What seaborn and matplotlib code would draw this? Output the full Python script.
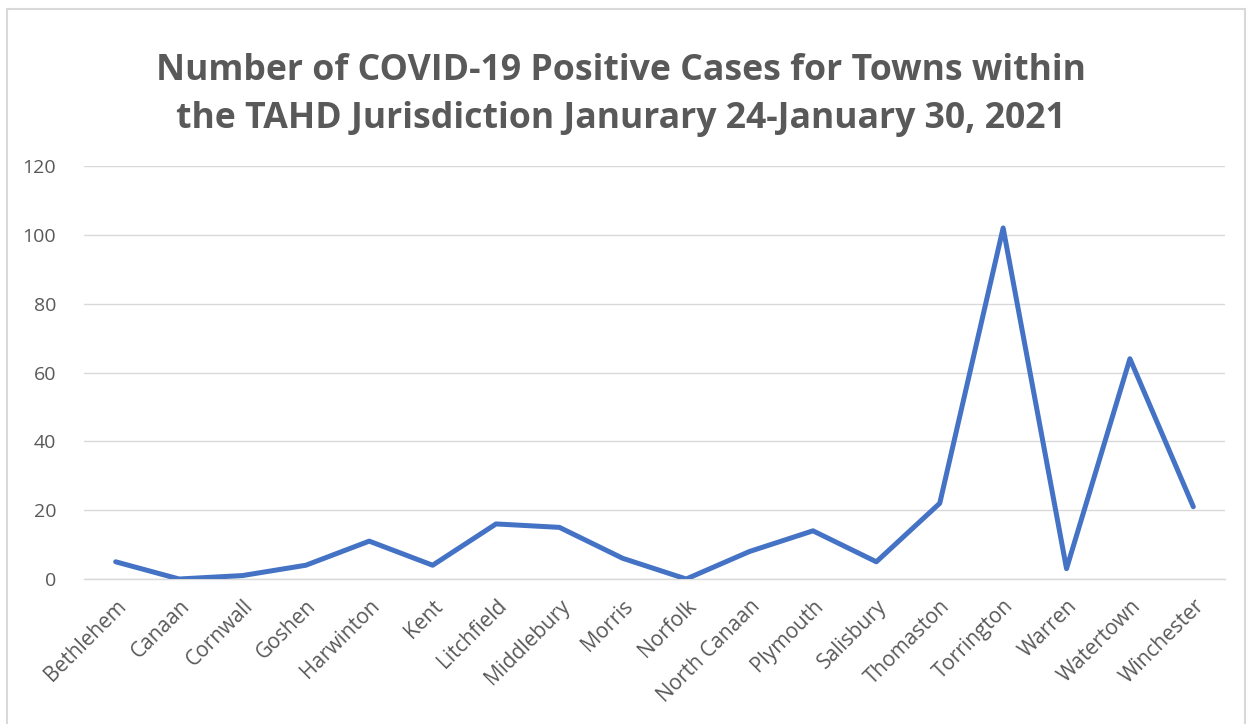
import matplotlib
matplotlib.use("Agg")
import matplotlib.pyplot as plt
import seaborn as sns
import pandas as pd
from matplotlib.patches import Rectangle

towns = ["Bethlehem", "Canaan", "Cornwall", "Goshen", "Harwinton", "Kent",
         "Litchfield", "Middlebury", "Morris", "Norfolk", "North Canaan",
         "Plymouth", "Salisbury", "Thomaston", "Torrington", "Warren",
         "Watertown", "Winchester"]
cases = [5, 0, 1, 4, 11, 4, 16, 15, 6, 0, 8, 14, 5, 22, 102, 3, 64, 21]
y_ticks = [0, 20, 40, 60, 80, 100, 120]
title = ("Number of COVID-19 Positive Cases for Towns within\n"
         "the TAHD Jurisdiction Janurary 24-January 30, 2021")

sns.set_theme(style="white")
plt.rcParams['font.family'] = ['Open Sans', 'DejaVu Sans']

df = pd.DataFrame({"town": towns, "cases": cases})
df["pos"] = range(len(towns))

fig = plt.figure(figsize=(12.52, 7.24), dpi=100)
W, H = 1252, 724
ax = fig.add_axes([84 / W, 1 - 579 / H, (1225 - 84) / W, (579 - 166) / H])

grey = "#595959"
sns.lineplot(data=df, x="pos", y="cases", ax=ax, color="#4472C4",
             linewidth=3.6, solid_capstyle="round", solid_joinstyle="round",
             zorder=3)

ax.set_xlim(-0.5, len(towns) - 0.5)
ax.set_ylim(0, 120)
ax.set_yticks(y_ticks)
ax.set_yticklabels([str(v) for v in y_ticks], fontsize=14, color=grey)
ax.set_xticks(df["pos"])
ax.set_xticklabels(towns, rotation=45, ha="right", rotation_mode="anchor",
                   fontsize=15, color=grey)
ax.tick_params(axis="both", length=0)
ax.tick_params(axis="y", pad=20)
ax.tick_params(axis="x", pad=12)
ax.set_xlabel("")
ax.set_ylabel("")
ax.grid(axis="y", color="#D9D9D9", linewidth=1.0)
ax.set_axisbelow(True)
for s in ["top", "right", "left"]:
    ax.spines[s].set_visible(False)
ax.spines["bottom"].set_color("#D9D9D9")
ax.spines["bottom"].set_linewidth(1.0)

fig.text(621 / W, 1 - 95 / H, title, ha="center", va="center",
         fontsize=25.7, fontweight="bold", color=grey, linespacing=1.42)

fig.patches.append(Rectangle((7 / W, -0.01), (1245 - 7) / W, 1 - 9 / H + 0.01,
                             transform=fig.transFigure, fill=False,
                             edgecolor="#D9D9D9", linewidth=1.5))

fig.savefig("out.png", dpi=100)
